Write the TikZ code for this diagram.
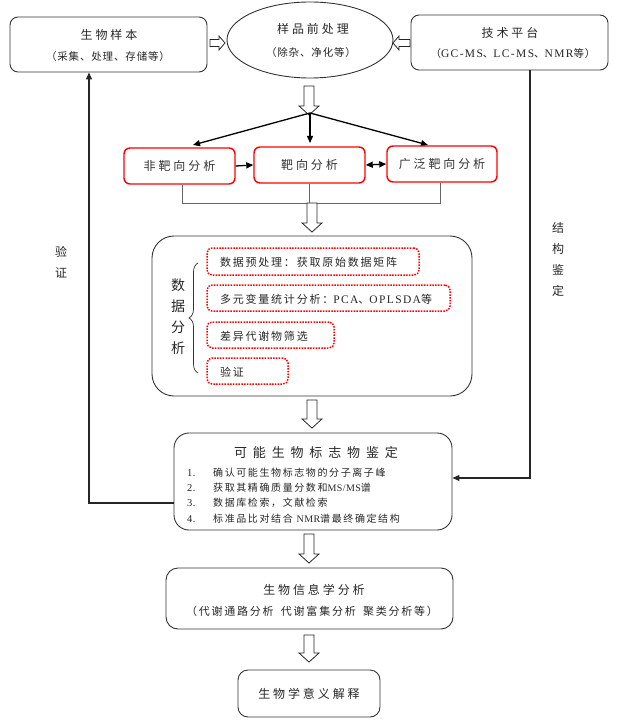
\documentclass[tikz,border=0pt]{standalone}
\usepackage{fontspec}
\setmainfont{Liberation Serif}
\newfontfamily\cjk{Noto Sans CJK SC}
\newfontfamily\cjkS{Noto Sans CJK SC}[LetterSpace=8]
\newfontfamily\cjkM{Noto Sans CJK SC}[LetterSpace=16]
\newfontfamily\cjkL{Noto Sans CJK SC}[LetterSpace=24]
\newfontfamily\cjkXL{Noto Sans CJK SC}[LetterSpace=45]
\newfontfamily\latS{Liberation Serif}[LetterSpace=4]
\newfontfamily\latM{Liberation Serif}[LetterSpace=12]
\usetikzlibrary{shapes.geometric,arrows.meta,decorations.pathreplacing}
\newcommand{\hdn}[3]{\draw[hol] (#1-5,#2) -- (#1+5,#2) -- (#1+5,#3-9) -- (#1+10,#3-9) -- (#1,#3) -- (#1-10,#3-9) -- (#1-5,#3-9) -- cycle;}
\newcommand{\hrt}[3]{\draw[hol] (#1,#3-3.5) -- (#2-6,#3-3.5) -- (#2-6,#3-7) -- (#2,#3) -- (#2-6,#3+7) -- (#2-6,#3+3.5) -- (#1,#3+3.5) -- cycle;}
\newcommand{\hlt}[3]{\draw[hol] (#1,#3-3.5) -- (#2+6,#3-3.5) -- (#2+6,#3-7) -- (#2,#3) -- (#2+6,#3+7) -- (#2+6,#3+3.5) -- (#1,#3+3.5) -- cycle;}
\begin{document}
\begin{tikzpicture}[x=1pt,y=-1pt,
  box/.style={draw=black!80,line width=0.9pt,rounded corners=8pt,inner sep=0pt},
  rbox/.style={draw=red,line width=1.4pt,rounded corners=6pt,inner sep=0pt,text=black!80,font=\cjkL\fontsize{12}{14}\selectfont},
  dbox/.style={draw=red,line width=1.5pt,dash pattern=on 1.5pt off 1.3pt,rounded corners=5pt,inner sep=0pt},
  hol/.style={draw=black!85,line width=0.8pt,fill=white},
  arr/.style={draw=black,line width=1.3pt,-{Triangle[length=7pt,width=6pt]}},
  darr/.style={draw=black,line width=1.3pt,{Triangle[length=7pt,width=6pt]}-{Triangle[length=7pt,width=6pt]}},
  fb/.style={draw=black!85,line width=1.1pt,-{Triangle[length=7pt,width=6pt]}},
  thinl/.style={draw=black!60,line width=0.6pt},
  lbl/.style={inner sep=0pt,text=black!85},
  tT/.style={lbl,font=\cjkL\fontsize{12}{14}\selectfont},
  tS/.style={lbl,font=\cjkS\fontsize{10.5}{12}\selectfont},
  tD/.style={lbl,font=\cjkM\fontsize{11}{13}\selectfont},
  tI/.style={lbl,font=\cjkM\fontsize{10}{12}\selectfont},
  tX/.style={lbl,font=\cjkXL\fontsize{13}{15}\selectfont},
  tN/.style={lbl,font=\latS\fontsize{10.5}{12}\selectfont},
  tV/.style={lbl,align=center,font=\cjk\fontsize{12}{21}\selectfont},
  tVB/.style={lbl,align=center,font=\cjk\fontsize{14}{21}\selectfont}
]
\useasboundingbox (0,0) rectangle (622,727);

% top row
\node[box,minimum width=197,minimum height=55] (sample) at (108.5,44.5) {};
\node[tT] (sampleT) at (109,35) {生物样本};
\node[tS] (sampleS) at (108,57) {（采集、处理、存储等）};

\node[ellipse,draw=black!80,line width=0.9pt,minimum width=166,minimum height=76,inner sep=0pt] (pre) at (310,40) {};
\node[tT] (preT) at (313,29) {样品前处理};
\node[tS] (preS) at (311,53) {（除杂、净化等）};

\node[box,minimum width=197,minimum height=55] (tech) at (509.5,42.5) {};
\node[tT] (techT) at (510,33) {技术平台};
\node[tS] (techS) at (513,54) {（{\latM\fontsize{11.5}{13}\selectfont GC-MS}、{\latM\fontsize{11.5}{13}\selectfont LC-MS}、{\latM\fontsize{11.5}{13}\selectfont NMR}等）};

\hrt{210}{225}{43}
\hlt{410}{393}{43}
\hdn{309}{86}{115}

% tree
\coordinate (root) at (310,113);
\coordinate (tl) at (193,145);
\coordinate (tm) at (310,143);
\coordinate (tr) at (428,145);
\draw[arr] (root) -- (tl);
\draw[arr] (root) -- (tm);
\draw[arr] (root) -- (tr);

\node[rbox,minimum width=111,minimum height=36] (nt) at (179.5,166) {非靶向分析};
\node[rbox,minimum width=111,minimum height=36] (tg) at (309.5,165) {靶向分析};
\node[rbox,minimum width=110,minimum height=36] (wt) at (442,164) {广泛靶向分析};
\draw[arr] (nt.east) -- (tg.west);
\draw[darr] (tg.east) -- (wt.west);

\coordinate (cl) at (182,203);
\coordinate (cr) at (440,203);
\draw[thinl] (cl |- nt.south) -- (cl) -- (cr) -- (cr |- wt.south);
\draw[thinl] (tg.south) -- (tg.south |- cl);
\hdn{312}{203}{232}

% data analysis
\node[box,rounded corners=22pt,minimum width=320,minimum height=160] (da) at (312,316) {};
\node[tVB] (daT) at (178,317) {数\\据\\分\\析};
\draw[line width=0.7pt,black!80,decorate,decoration={brace,amplitude=9pt}] (198,373) -- (198,263);
\node[dbox,minimum width=212,minimum height=27] (d1) at (313,261.5) {};
\node[dbox,minimum width=243,minimum height=26] (d2) at (328.5,298) {};
\node[dbox,minimum width=127,minimum height=26] (d3) at (270.5,335) {};
\node[dbox,minimum width=81,minimum height=26] (d4) at (247.5,371) {};
\node[tD,anchor=west] (d1T) at (220,262.5) {数据预处理：获取原始数据矩阵};
\node[tD,anchor=west] (d2T) at (220,299) {多元变量统计分析：{\latM\fontsize{11.5}{13}\selectfont PCA}、{\latM\fontsize{11.5}{13}\selectfont OPLSDA}等};
\node[tD,anchor=west] (d3T) at (220,336) {差异代谢物筛选};
\node[tD,anchor=west] (d4T) at (220,372) {验证};
\hdn{312}{400}{428}

% identification
\node[box,rounded corners=15pt,minimum width=278,minimum height=97] (id) at (313,481.5) {};
\node[tX] (idT) at (316,453) {可能生物标志物鉴定};
\node[tN,anchor=west] (n1) at (187,473) {1.};
\node[tN,anchor=west] (n2) at (187,488) {2.};
\node[tN,anchor=west] (n3) at (187,503) {3.};
\node[tN,anchor=west] (n4) at (187,519) {4.};
\node[tI,anchor=west] (i1) at (213,473) {确认可能生物标志物的分子离子峰};
\node[tI,anchor=west] (i2) at (213,488) {获取其精确质量分数和{\latS MS/MS}谱};
\node[tI,anchor=west] (i3) at (213,503) {数据库检索，文献检索};
\node[tI,anchor=west] (i4) at (213,519) {标准品比对结合 {\latS NMR}谱最终确定结构};
\hdn{309}{534}{563}

% bioinformatics
\node[box,rounded corners=12pt,minimum width=287,minimum height=61] (bio) at (309.5,598.5) {};
\node[tT] (bioT) at (314,590) {生物信息学分析};
\node[tD] (bioS) at (312,611) {（代谢通路分析\hspace{3pt} 代谢富集分析\hspace{3pt} 聚类分析等）};
\hdn{309}{635}{662}

\node[box,rounded corners=10pt,minimum width=142,minimum height=47,tT] (fin) at (309,693.5) {生物学意义解释};

% feedback lines
\coordinate (fbL) at (89,503);
\draw[fb] (id.west |- fbL) -- (fbL) -- (fbL |- sample.south);
\node[tV] (vlab) at (61,262) {验\\证};
\coordinate (fbR) at (530,478);
\draw[fb] (tech.south -| fbR) -- (fbR) -- (fbR -| id.east);
\node[tV] (slab) at (558,259) {结\\构\\鉴\\定};
\end{tikzpicture}
\end{document}
